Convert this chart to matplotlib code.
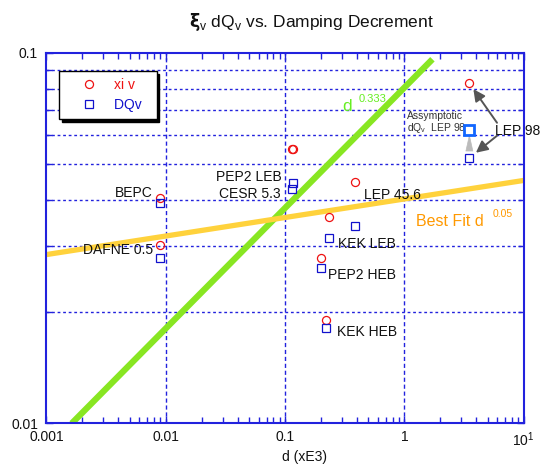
import numpy as np
import matplotlib.pyplot as plt
from matplotlib.ticker import FixedLocator, FixedFormatter, NullFormatter, LogLocator

plt.rcParams['font.family'] = ['Liberation Sans', 'DejaVu Sans']

# machine data: damping decrement d (xE3), beam-beam xi_v and dQ_v
names = ['BEPC', 'DAFNE 0.5', 'PEP2 LEB', 'CESR 5.3', 'LEP 45.6', 'KEK LEB', 'PEP2 HEB', 'KEK HEB', 'LEP 98']
d = [0.009, 0.009, 0.117, 0.114, 0.386, 0.235, 0.199, 0.221, 3.51]
xi_v = [0.0405, 0.0302, 0.055, 0.055, 0.0449, 0.0360, 0.0279, 0.0190, 0.0826]
dq_v = [0.0392, 0.0280, 0.0444, 0.0429, 0.0340, 0.0317, 0.0262, 0.0181, 0.0520]
lep98_asym = 0.0619

# fits y = A * d^p
green_A, green_p = 0.0805, 0.325
green_range = (0.00163, 1.72)
fit_A, fit_p = 0.0403, 0.05

# label offsets (points) and alignment
lab_off = {
    'BEPC': (-5.5, 4, 'right'), 'DAFNE 0.5': (-5, -3.5, 'right'),
    'PEP2 LEB': (-8.3, 4.7, 'right'), 'CESR 5.3': (-8, -3.6, 'right'),
    'LEP 45.6': (6.5, -10, 'left'), 'KEK LEB': (6.3, -4.8, 'left'),
    'PEP2 HEB': (5.3, -4.5, 'left'), 'KEK HEB': (8, -3, 'left'),
}

fig = plt.figure(figsize=(5.42, 4.66), dpi=100)
ax = fig.add_axes([0.0856, 0.0916, 0.8805, 0.7953])
ax.set_xscale('log')
ax.set_yscale('log')
ax.set_xlim(0.001, 10)
ax.set_ylim(0.01, 0.1)

blue = '#2222dd'
# grid
for xv in [0.01, 0.1, 1]:
    ax.axvline(xv, color=blue, lw=1, ls=(0, (3, 2)), zorder=0)
for yv in np.arange(0.02, 0.1, 0.01):
    ax.axhline(yv, color=blue, lw=1, ls=(0, (2, 2)), zorder=0)

# fit lines
xg = np.logspace(np.log10(green_range[0]), np.log10(green_range[1]), 50)
ax.plot(xg, green_A * xg ** green_p, color='#88e622', lw=4.5, zorder=2, solid_capstyle='butt')
xf = np.logspace(-3, 1, 50)
ax.plot(xf, fit_A * xf ** fit_p, color='#ffd23c', lw=3.8, zorder=2)

# data
ax.plot(d, xi_v, 'o', mfc='none', mec='#ee1111', ms=5.8, mew=0.9, zorder=4, label='xi v  ')
ax.plot(d, dq_v, 's', mfc='none', mec='#1111cc', ms=5.8, mew=0.9, zorder=4, label='DQv  ')
ax.plot(d[-1], lep98_asym, 's', mfc='none', mec='#1166ff', ms=7, mew=2, zorder=5)

for n, x, y in zip(names[:-1], d[:-1], dq_v[:-1]):
    dx, dy, ha = lab_off[n]
    yy = xi_v[names.index(n)] if n in ('BEPC', 'DAFNE 0.5', 'LEP 45.6') else y
    ax.annotate(n, (x, yy), xytext=(dx, dy), textcoords='offset points',
                ha=ha, va='center', fontsize=10, color='#111111', zorder=6)

# LEP 98 annotations
ax.annotate('LEP 98', (d[-1], lep98_asym), xytext=(18.5, -1), textcoords='offset points',
            ha='left', va='center', fontsize=10, color='#111111', annotation_clip=False)
ax.annotate('', xy=(d[-1], xi_v[-1]), xytext=(19.9, -28.3), textcoords='offset points',
            arrowprops=dict(arrowstyle='-|>,head_length=0.7,head_width=0.35', color='#555555', lw=1.4,
                            shrinkA=0, shrinkB=5))
ax.annotate('', xy=(d[-1], dq_v[-1]), xytext=(19.9, 16), textcoords='offset points',
            arrowprops=dict(arrowstyle='-|>,head_length=0.7,head_width=0.35', color='#555555', lw=1.4,
                            shrinkA=0, shrinkB=6))
ax.annotate('', xy=(d[-1], lep98_asym), xytext=(d[-1], dq_v[-1]),
            arrowprops=dict(arrowstyle='wedge,tail_width=0.5', color='#bbbbbb', lw=0.5,
                            shrinkA=5, shrinkB=4))
ax.annotate('Assymptotic\ndQ$_\\mathregular{v}$  LEP 98', (d[-1], lep98_asym), xytext=(-45, 5),
            textcoords='offset points', ha='left', va='center', fontsize=7.5,
            color='#333333', linespacing=1.0)

# fit labels
ax.text(0.6195, 0.856, 'd', transform=ax.transAxes, color='#66ee22', fontsize=12.5, va='center')
ax.text(0.655, 0.874, '0.333', transform=ax.transAxes, color='#66ee22', fontsize=8, va='center')
ax.text(0.774, 0.544, 'Best Fit d', transform=ax.transAxes, color='#ff9900', fontsize=11.5, va='center')
ax.text(0.935, 0.566, '0.05', transform=ax.transAxes, color='#ff9900', fontsize=7.5, va='center')

# legend
leg = ax.legend(loc='upper left', bbox_to_anchor=(0.027, 0.951), frameon=True, fancybox=False,
                shadow={'color': 'black', 'alpha': 1}, edgecolor='black', fontsize=10,
                borderpad=0.5, handlelength=3.3, handletextpad=0.15, labelspacing=0.45,
                borderaxespad=0, framealpha=1)
leg.get_frame().set_linewidth(1.0)
for t, c in zip(leg.get_texts(), ['#ee1111', '#1111cc']):
    t.set_color(c)

# axes styling
for s in ax.spines.values():
    s.set_color(blue)
    s.set_linewidth(1.5)
ax.xaxis.set_major_locator(FixedLocator([0.001, 0.01, 0.1, 1, 10]))
ax.xaxis.set_major_formatter(FixedFormatter(['0.001', '0.01', '0.1', '1', '$\\mathregular{10^1}$']))
ax.xaxis.set_minor_locator(LogLocator(base=10, subs=np.arange(2, 10)))
ax.xaxis.set_minor_formatter(NullFormatter())
ax.yaxis.set_major_locator(FixedLocator([0.01, 0.1]))
ax.yaxis.set_major_formatter(FixedFormatter(['0.01', '0.1']))
ax.yaxis.set_minor_locator(LogLocator(base=10, subs=np.arange(2, 10)))
ax.yaxis.set_minor_formatter(NullFormatter())
ax.tick_params(which='both', direction='in', top=True, right=True, color=blue, labelsize=10,
               labelcolor='#111111')
ax.tick_params(which='major', length=5, width=1, pad=5)
ax.tick_params(axis='y', which='major', pad=6)
ax.tick_params(which='minor', length=4, width=1)
ax.set_xlabel('d (xE3)', fontsize=10, color='#111111')
ax.xaxis.set_label_coords(0.54, -0.072)

fig.text(0.574, 0.953, '$\\mathbf{\\xi}_\\mathregular{v}$ dQ$_\\mathregular{v}$ vs. Damping Decrement',
         ha='center', va='center', fontsize=12.5, color='#111111')

fig.savefig('out.png', dpi=100)
